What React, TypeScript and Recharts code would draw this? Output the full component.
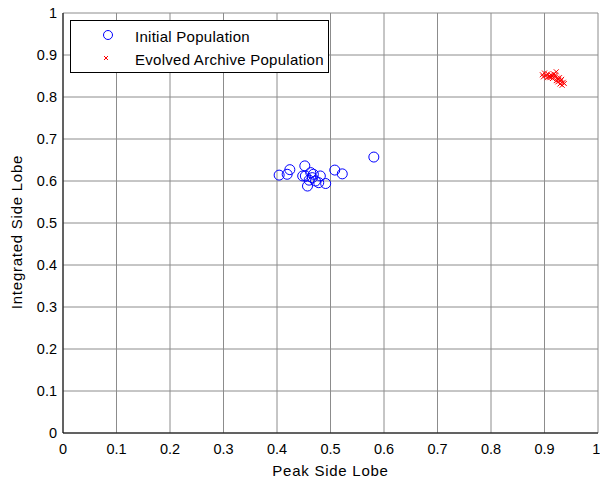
import React from 'react'
import { ScatterChart, Scatter, XAxis, YAxis, CartesianGrid } from 'recharts'

// Initial population (peak side lobe, integrated side lobe)
const initialPeak = [0.404, 0.419, 0.424, 0.452, 0.448, 0.457, 0.463, 0.466, 0.46, 0.472, 0.481, 0.478, 0.491, 0.508, 0.522, 0.453, 0.468, 0.581]
const initialIntegrated = [0.614, 0.616, 0.627, 0.636, 0.612, 0.588, 0.62, 0.608, 0.602, 0.6, 0.612, 0.596, 0.594, 0.626, 0.617, 0.612, 0.616, 0.657]

// Evolved archive population
const archivePeak = [0.896, 0.9, 0.903, 0.906, 0.909, 0.912, 0.898, 0.905, 0.91, 0.914, 0.917, 0.92, 0.922, 0.915, 0.919, 0.924, 0.926, 0.928, 0.93, 0.925, 0.932, 0.935, 0.929, 0.922, 0.933, 0.937]
const archiveIntegrated = [0.853, 0.857, 0.851, 0.855, 0.849, 0.853, 0.848, 0.846, 0.846, 0.85, 0.855, 0.852, 0.86, 0.844, 0.848, 0.845, 0.841, 0.846, 0.838, 0.836, 0.842, 0.835, 0.831, 0.839, 0.828, 0.832]

const ticks = [0, 0.1, 0.2, 0.3, 0.4, 0.5, 0.6, 0.7, 0.8, 0.9, 1]
const tickLabels = ['0', '0.1', '0.2', '0.3', '0.4', '0.5', '0.6', '0.7', '0.8', '0.9', '1']

const initialData = initialPeak.map((x, i) => ({ x, y: initialIntegrated[i] }))
const archiveData = archivePeak.map((x, i) => ({ x, y: archiveIntegrated[i] }))

const FONT = '"Liberation Sans", Arial, sans-serif'
const fmt = (v: number) => tickLabels[ticks.indexOf(v)] ?? String(v)

const Circle = (props: any) => (
  <circle cx={props.cx} cy={props.cy} r={5} fill="none" stroke="#0000ff" strokeWidth={1} />
)

const Cross = (props: any) => {
  const { cx, cy } = props
  const d = 2.5
  return (
    <path d={`M${cx - d},${cy - d}L${cx + d},${cy + d}M${cx - d},${cy + d}L${cx + d},${cy - d}`} stroke="#ff0000" strokeWidth={1} fill="none" />
  )
}

const YLabel = (props: any) => {
  const vb = props.viewBox || {}
  const cy = vb.y + vb.height / 2 + 9
  return (
    <text x={22} y={cy} transform={`rotate(-90, 22, ${cy})`} textAnchor="middle" fontSize={15} letterSpacing={0.75} fontFamily={FONT} fill="#000">
      Integrated Side Lobe
    </text>
  )
}

const LegendBox = () => (
  <div style={{ position: 'absolute', left: 70, top: 20, width: 257, height: 51, border: '1px solid #000', background: '#fff' }}>
    <svg width={257} height={51} style={{ position: 'absolute', left: 0, top: 0 }}>
      <circle cx={37} cy={14} r={4.5} fill="none" stroke="#0000ff" strokeWidth={1} />
      <path d="M33,35L37,39M33,39L37,35" stroke="#ff0000" strokeWidth={1} />
      <text x={64} y={20.5} fontSize={15} letterSpacing={0.27} fontFamily={FONT}>Initial Population</text>
      <text x={64} y={44} fontSize={15} letterSpacing={0.27} fontFamily={FONT}>Evolved Archive Population</text>
    </svg>
  </div>
)

export default function App() {
  return (
    <div style={{ position: 'relative', width: 600, height: 483, background: '#fff' }}>
      <style>{'body{margin:0}'}</style>
      <ScatterChart width={600} height={483} margin={{ top: 13, right: 2, bottom: 0, left: 0 }}>
        <CartesianGrid xAxisId="b" yAxisId="l" stroke="#8c8c8c" strokeWidth={1} horizontalValues={ticks} verticalValues={ticks} />
        <XAxis
          type="number"
          dataKey="x"
          xAxisId="b"
          domain={[0, 1]}
          ticks={ticks}
          tickFormatter={fmt}
          height={50}
          stroke="#000"
          tickLine={false}
          tickSize={6}
          tickMargin={5}
          tick={{ fill: '#000', fontSize: 14.5, fontFamily: FONT }}
          label={{ value: 'Peak Side Lobe', position: 'insideBottom', offset: 7, fill: '#000', fontSize: 15, letterSpacing: 0.75, fontFamily: FONT }}
        />
        <XAxis type="number" dataKey="x" xAxisId="t" orientation="top" domain={[0, 1]} ticks={ticks} height={0} stroke="#000" tick={false} tickLine={false} />
        <YAxis
          type="number"
          dataKey="y"
          yAxisId="l"
          domain={[0, 1]}
          ticks={ticks}
          tickFormatter={fmt}
          width={63}
          stroke="#000"
          tickLine={false}
          tickSize={6}
          tickMargin={0}
          tick={{ fill: '#000', fontSize: 14.5, fontFamily: FONT }}
          label={<YLabel />}
        />
        <YAxis type="number" dataKey="y" yAxisId="r" orientation="right" domain={[0, 1]} ticks={ticks} width={0} stroke="#000" tick={false} tickLine={false} />
        <Scatter name="Initial Population" data={initialData} xAxisId="b" yAxisId="l" shape={Circle} isAnimationActive={false} />
        <Scatter name="Evolved Archive Population" data={archiveData} xAxisId="b" yAxisId="l" shape={Cross} isAnimationActive={false} />
      </ScatterChart>
      <LegendBox />
    </div>
  )
}
